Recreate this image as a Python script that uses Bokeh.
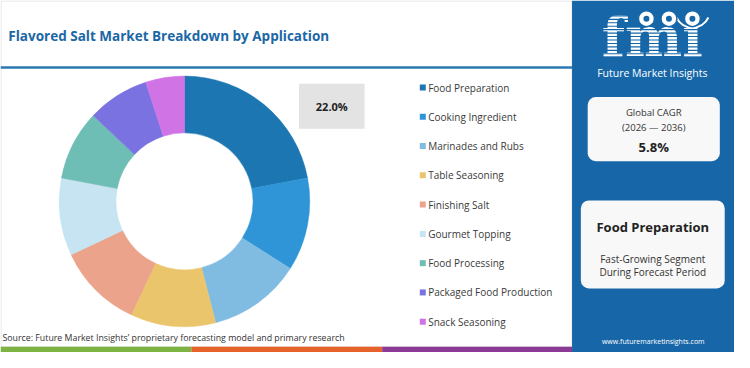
import numpy as np
from bokeh.plotting import figure
from bokeh.models import Range1d
from bokeh.embed import file_html
from bokeh.resources import INLINE
from bokeh.core.properties import value

# ---------------- data ----------------
categories = ["Food Preparation", "Cooking Ingredient", "Marinades and Rubs",
              "Table Seasoning", "Finishing Salt", "Gourmet Topping",
              "Food Processing", "Packaged Food Production", "Snack Seasoning"]
shares = [22, 12, 12, 11, 11, 10, 9, 8, 5]
colors = ["#1b76b1", "#2f95d7", "#80bce2", "#ebc56c", "#eba38b",
          "#c7e4f3", "#6fbeb6", "#7b72e1", "#cf73e5"]
highlight_label = "22.0%"
title = "Flavored Salt Market Breakdown by Application"
cagr_title = "Global CAGR"
cagr_period = "(2026 \u2014 2036)"
cagr_value = "5.8%"
top_segment = "Food Preparation"
top_note = ["Fast-Growing Segment", "During Forecast Period"]
brand = "Future Market Insights"
site = "www.futuremarketinsights.com"
source = "Source: Future Market Insights\u2019 proprietary forecasting model and primary research"

# ---------------- figure ----------------
W, H = 750, 368
p = figure(width=734, height=352, x_range=Range1d(0, W), y_range=Range1d(H, 0),
           output_backend="svg", toolbar_location=None, min_border=0,
           x_axis_type=None, y_axis_type=None)
p.grid.visible = False
p.outline_line_color = None
p.background_fill_color = "white"
p.border_fill_color = "white"

FONT = "Open Sans"


def txt(x, y, s, size, color="#333333", bold=False, align="left", font=FONT, baseline="middle"):
    p.text(x=[x], y=[y], text=[s], text_font=value(font),
           text_font_size=f"{size}px", text_color=color,
           text_font_style="bold" if bold else "normal",
           text_align=align, text_baseline=baseline)


# left panel border + top rule
p.quad(left=0.5, right=584, top=0.5, bottom=362, fill_color=None, line_color="#e2e2e2", line_width=1)
p.segment(x0=0, y0=70, x1=584, y1=70, line_color="#2b78b5", line_width=2.5)

# right blue panel
p.quad(left=584, right=750, top=0, bottom=368, fill_color="#1767a8", line_color=None)

# bottom colour strip
p.quad(left=[0, 195, 390], right=[195, 390, 584], top=[362, 362, 362], bottom=[368, 368, 368],
       fill_color=["#7cb342", "#e5632b", "#8b3a96"], line_color=None)

# title
txt(8, 37, title, 13.5, color="#1b67a6", bold=True)

# donut
vals = np.array(shares, dtype=float)
frac = vals / vals.sum()
cum = np.concatenate([[0], np.cumsum(frac)])
starts = np.pi / 2 - 2 * np.pi * cum[:-1]
ends = np.pi / 2 - 2 * np.pi * cum[1:]
p.annular_wedge(x=188, y=210, inner_radius=70, outer_radius=128,
                start_angle=starts, end_angle=ends, direction="clock",
                fill_color=colors, line_color=colors, line_width=0.5)

# highlight label box
p.quad(left=305, right=372, top=87, bottom=134, fill_color="#e3e3e3", line_color=None)
txt(338.5, 111, highlight_label, 11, color="#222222", bold=True, align="center")

# legend
ly = [91 + i * 30.6 for i in range(len(categories))]
p.scatter(x=[431.5] * len(categories), y=ly, marker="square", size=6,
          fill_color=colors, line_color=None)
p.text(x=[437] * len(categories), y=ly, text=categories, text_font=value(FONT),
       text_font_size="10px", text_color="#3a3a3a", text_baseline="middle")

# source
txt(2, 352.5, source, 8.8, color="#333333")

# ---------- right panel ----------
# logo
txt(666, 38, "fmi", 54, color="white", bold=True, align="center", font="DejaVu Serif")
sy = np.arange(12.5, 58, 3.6)
p.segment(x0=[600] * len(sy), y0=sy, x1=[735] * len(sy), y1=sy, line_color="#1767a8", line_width=1.1)
gx = [660, 683, 707]
p.arc(x=707, y=10, radius=18, start_angle=np.radians(205), end_angle=np.radians(335),
      direction="anticlock", line_color="white", line_width=2)
p.scatter(x=gx, y=[19, 19, 19], size=16, fill_color="white", line_color="#1767a8", line_width=1.5)
p.scatter(x=gx, y=[19, 19, 19], size=6, fill_color="#1767a8", line_color=None)
txt(666, 76, brand, 10.5, color="white", align="center")

# CAGR card
p.quad(left=600, right=735, top=101, bottom=168, fill_color="#f8f8f8", line_color=None, border_radius=8)
txt(667.5, 117, cagr_title, 9.5, color="#333333", align="center")
txt(667.5, 133, cagr_period, 9.5, color="#333333", align="center")
txt(667.5, 153, cagr_value, 13, color="#222222", bold=True, align="center")

# segment card
p.quad(left=593, right=740, top=209, bottom=301, fill_color="#f8f8f8", line_color=None, border_radius=8)
txt(666.5, 237, top_segment, 13, color="#222222", bold=True, align="center")
txt(666.5, 270, top_note[0], 10, color="#333333", align="center")
txt(666.5, 284, top_note[1], 10, color="#333333", align="center")

txt(667, 356, site, 7, color="white", align="center")

open("out.html", "w").write(file_html(p, INLINE))
